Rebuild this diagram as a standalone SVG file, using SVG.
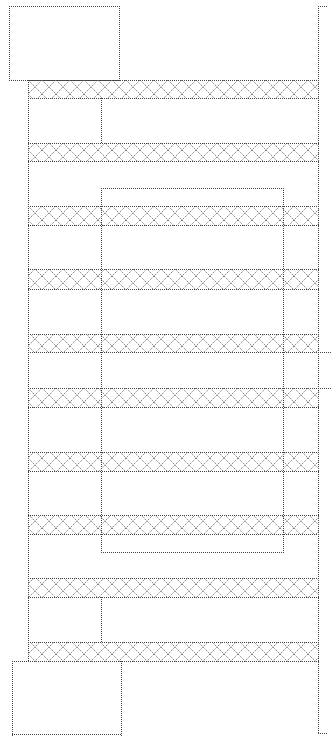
<svg xmlns="http://www.w3.org/2000/svg" width="332" height="736" viewBox="0 0 332 736">
<defs>
<pattern id="hatch" patternUnits="userSpaceOnUse" width="14" height="14" patternTransform="translate(28,80)">
<path d="M0,0 L14,14 M14,0 L0,14" stroke="#6e6e6e" stroke-width="0.9" stroke-dasharray="1.4 1"/>
</pattern>
</defs>
<style>
.ln{fill:none;stroke:#444;stroke-width:1;stroke-dasharray:1 1}
.bf{fill:url(#hatch);stroke:none}
</style>
<rect width="332" height="736" fill="#fff"/>
<g id="top-box"><path class="ln" d="M9,6.5 H120 M9.5,6 V81 M119.5,6 V81 M9,80.5 H120"/></g>
<g id="bottom-box"><path class="ln" d="M12,661.5 H122 M12.5,661 V736 M121.5,661 V736 M12,734.5 H122"/></g>
<g id="frame">
<path class="ln" d="M28.5,80 V662"/>
<path class="ln" d="M318.5,6 V734 M318,6.5 H327 M318,733.5 H327"/>
<path class="ln" d="M318,352.5 H332 M318,388.5 H332"/>
</g>
<g id="inner">
<path class="ln" d="M101.5,98 V144"/>
<path class="ln" d="M101,188.5 H284 M101.5,188 V553 M283.5,188 V553 M101,552.5 H284"/>
<path class="ln" d="M101.5,597 V643"/>
</g>
<g id="bands">
<rect class="bf" x="28" y="80" width="291" height="19"/>
<rect class="bf" x="28" y="143" width="291" height="19"/>
<rect class="bf" x="28" y="206" width="291" height="20"/>
<rect class="bf" x="28" y="269" width="291" height="21"/>
<rect class="bf" x="28" y="334" width="291" height="19"/>
<rect class="bf" x="28" y="388" width="291" height="20"/>
<rect class="bf" x="28" y="452" width="291" height="20"/>
<rect class="bf" x="28" y="515" width="291" height="20"/>
<rect class="bf" x="28" y="578" width="291" height="20"/>
<rect class="bf" x="28" y="642" width="291" height="20"/>
<path class="ln" d="M28,80.5 H319 M28,98.5 H319 M28,143.5 H319 M28,161.5 H319 M28,206.5 H319 M28,225.5 H319 M28,269.5 H319 M28,289.5 H319 M28,334.5 H319 M28,352.5 H319 M28,388.5 H319 M28,407.5 H319 M28,452.5 H319 M28,471.5 H319 M28,515.5 H319 M28,534.5 H319 M28,578.5 H319 M28,597.5 H319 M28,642.5 H319 M28,661.5 H319"/>
</g>
</svg>
